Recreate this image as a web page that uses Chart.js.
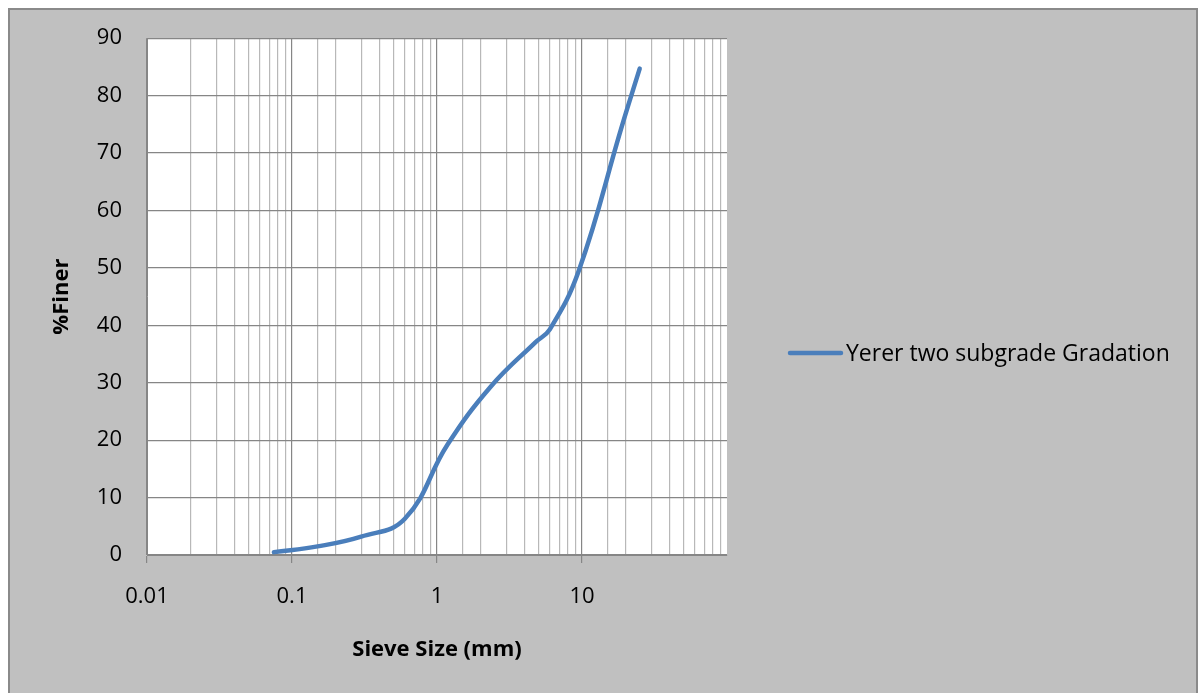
<!DOCTYPE html>
<html>
<head>
<meta charset="utf-8">
<script src="https://cdn.jsdelivr.net/npm/chart.js@4.4.1/dist/chart.umd.min.js"></script>
<style>
  body { margin: 0; background: #ffffff; }
  #frame {
    position: absolute; left: 8px; top: 8px; width: 1186px; height: 700px;
    background: #c0c0c0; border: 2px solid #8a8a8a;
  }
  #wrap { position: absolute; left: 0; top: 0; width: 1198px; height: 693px; }
</style>
</head>
<body>
<div id="frame"></div>
<div id="wrap"><canvas id="chart_1" width="1198" height="693"></canvas></div>
<script>
// data
var sieveSizes = [0.075, 0.15, 0.3, 0.6, 1.18, 2.36, 4.75, 6, 9.5, 19, 25];
var percentFiner = [0.5, 1.5, 3.2, 6.3, 19.2, 29.4, 37, 39.3, 49.5, 75, 84.7];
var xTickLabels = [0.01, 0.1, 1, 10];
var seriesName = "Yerer two subgrade Gradation";

var fontName = "'Open Sans', 'Noto Sans', sans-serif";
var blue = "#4a7ebb";

function isDecade(v) {
    var l = Math.log10(v);
    return Math.abs(l - Math.round(l)) < 1e-9;
}

// legend drawn by hand, to the right of the plot
var sideLegend = {
    id: "sideLegend",
    afterDraw: function (chart) {
        var ctx = chart.ctx;
        var ds = chart.data.datasets[0];
        ctx.save();
        ctx.strokeStyle = ds.borderColor;
        ctx.lineWidth = 4.5;
        ctx.lineCap = "round";
        ctx.beginPath();
        ctx.moveTo(790, 353);
        ctx.lineTo(841, 353);
        ctx.stroke();
        ctx.fillStyle = "#000";
        ctx.font = "23px " + fontName;
        ctx.textBaseline = "middle";
        ctx.fillText(ds.label, 846, 354);
        ctx.restore();
    }
};

// white plot area
var plotBg = {
    id: "plotBg",
    beforeDraw: function (chart) {
        var a = chart.chartArea;
        chart.ctx.save();
        chart.ctx.fillStyle = "#ffffff";
        chart.ctx.fillRect(a.left, a.top, a.right - a.left, a.bottom - a.top);
        chart.ctx.restore();
    }
};

new Chart(document.getElementById("chart_1"), {
    type: "line",
    data: {
        datasets: [{
            label: seriesName,
            data: sieveSizes.map(function (s, i) { return {x: s, y: percentFiner[i]}; }),
            borderColor: blue,
            backgroundColor: blue,
            borderWidth: 4.5,
            borderCapStyle: "round",
            pointRadius: 0,
            tension: 0.42,
            fill: false
        }]
    },
    options: {
        responsive: false,
        animation: false,
        layout: { padding: { left: 0, top: 38, right: 471, bottom: 0 } },
        plugins: { legend: { display: false }, tooltip: { enabled: false } },
        scales: {
            x: {
                type: "logarithmic",
                min: 0.01,
                max: 100,
                afterFit: function (s) { s.height = 693 - 555; },
                border: { color: "#868686", width: 1 },
                grid: {
                    color: function (c) {
                        var v = c.tick ? c.tick.value : 0;
                        if (v >= 100) return "rgba(0,0,0,0)";
                        return isDecade(v) ? "#868686" : "#b8b8b8";
                    },
                    lineWidth: 1.2,
                    drawTicks: true,
                    tickLength: 8,
                    tickColor: function (c) {
                        var v = c.tick ? c.tick.value : 0;
                        return (isDecade(v) && v < 100) ? "#868686" : "rgba(0,0,0,0)";
                    }
                },
                ticks: {
                    autoSkip: false,
                    maxRotation: 0,
                    padding: 21,
                    color: "#000",
                    font: { family: fontName, size: 22 },
                    callback: function (v) {
                        for (var i = 0; i < xTickLabels.length; i++) {
                            if (Math.abs(v - xTickLabels[i]) < xTickLabels[i] * 1e-6) return String(xTickLabels[i]);
                        }
                        return "";
                    }
                },
                title: {
                    display: true,
                    text: "Sieve Size (mm)",
                    color: "#000",
                    font: { family: fontName, size: 22, weight: "bold" },
                    padding: { top: 0, bottom: 30 }
                }
            },
            y: {
                min: 0,
                max: 90,
                afterFit: function (s) { s.width = 147; },
                border: { color: "#868686", width: 1 },
                grid: { color: "#868686", lineWidth: 1.2, drawTicks: false },
                ticks: {
                    stepSize: 10,
                    padding: 25,
                    color: "#000",
                    font: { family: fontName, size: 22 }
                },
                title: {
                    display: true,
                    text: "%Finer",
                    color: "#000",
                    font: { family: fontName, size: 22, weight: "bold" },
                    padding: { top: 49, bottom: 0 }
                }
            }
        }
    },
    plugins: [plotBg, sideLegend]
});
</script>
</body>
</html>
